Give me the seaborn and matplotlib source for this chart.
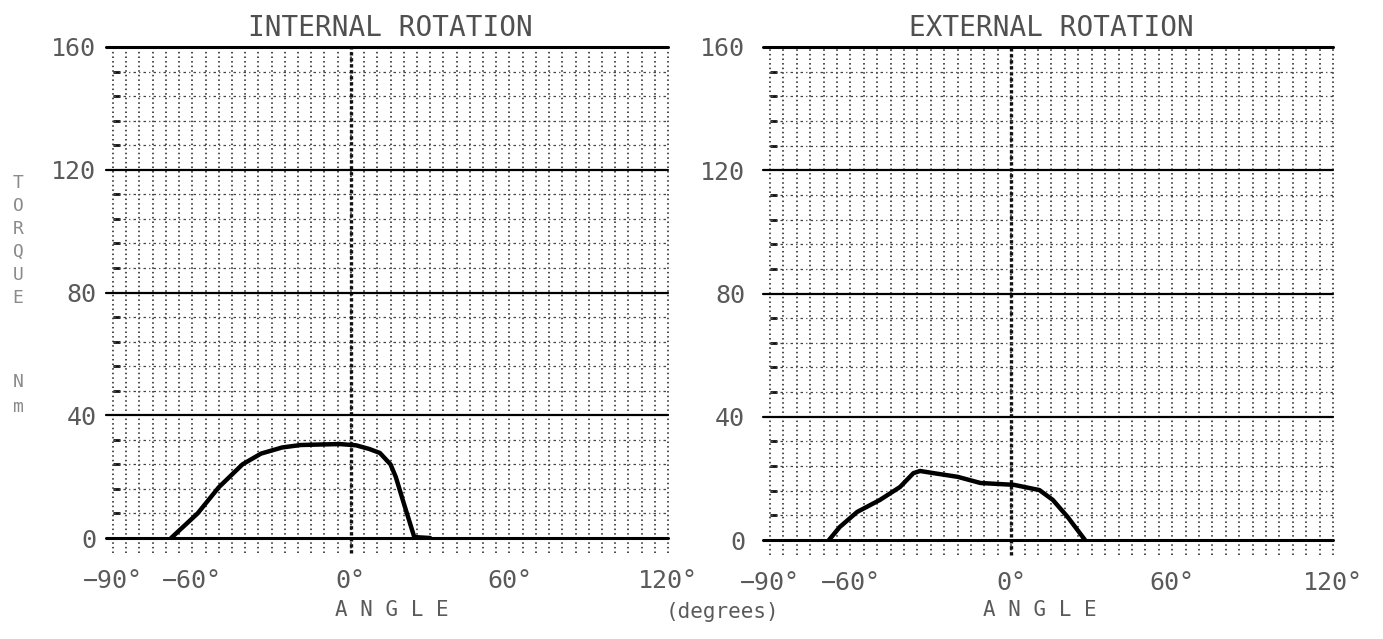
import numpy as np
import matplotlib.pyplot as plt
import seaborn as sns

sns.set_style("white")
plt.rcParams['font.family'] = ['DejaVu Sans Mono', 'DejaVu Sans']

# Torque curves
int_angle = [-68, -58, -50, -41, -34, -26, -19, -10, -4, 2, 7, 11, 15, 17, 20, 24, 30]
int_torque = [0, 8, 16.5, 24, 27.5, 29.5, 30.3, 30.5, 30.6, 30.2, 29, 27.7, 24, 19.9, 11.4, 0.3, 0]

ext_angle = [-68, -64, -57.5, -49, -41.5, -36.5, -34, -29, -20, -11.5, 1, 10.5, 15.5, 21, 27.5]
ext_torque = [0, 4.2, 9.1, 13, 17.2, 21.7, 22.4, 21.7, 20.5, 18.5, 17.9, 16.2, 13, 7.5, 0]

x_ticks = [-90, -60, 0, 60, 120]
x_labels = ['−90°', '−60°', '0°', '60°', '120°']
y_ticks = [0, 40, 80, 120, 160]
y_labels = ['0', '40', '80', '120', '160']
titles = ['INTERNAL ROTATION', 'EXTERNAL ROTATION']

fig = plt.figure(figsize=(13.83, 6.39), dpi=100)
ax1 = fig.add_axes([113 / 1383, 1 - 538 / 639, 555 / 1383, 491 / 639])
ax2 = fig.add_axes([770 / 1383, 1 - 540 / 639, 563 / 1383, 493 / 639])

text_col = '#5a5a5a'


def draw_grid(ax, ylab_pad):
    ax.set_xlim(-90, 120)
    ax.set_ylim(0, 160)
    for s in ax.spines.values():
        s.set_visible(False)
    # minor verticals every 5 degrees, poking below the axis
    for x in np.arange(-90, 121, 5):
        ax.axvline(x, ymin=-0.03, ymax=1, color='#1a1a1a', lw=1.1, ls=(0, (1, 2)),
                   clip_on=False, zorder=1)
    ax.axvline(0, ymin=-0.03, ymax=1, color='#111', lw=2.4, ls=(0, (1, 0.8)),
               clip_on=False, zorder=1)
    # minor horizontals every 8 units
    for y in np.arange(8, 160, 8):
        if y % 40:
            ax.axhline(y, color='#444', lw=0.9, ls=(0, (2, 2.5, 1, 2.5)), zorder=1)
    for y in [40, 80, 120]:
        ax.axhline(y, xmin=-0.012, xmax=1, color='black', lw=1.6, clip_on=False, zorder=2)
    for y in [0, 160]:
        ax.axhline(y, xmin=-0.012, xmax=1, color='black', lw=2.2, clip_on=False, zorder=2)
    ax.set_xticks(x_ticks)
    ax.set_xticklabels(x_labels)
    ax.set_yticks(y_ticks)
    ax.set_yticklabels(y_labels)
    ax.set_yticks(np.arange(8, 160, 8), minor=True)
    ax.tick_params(axis='x', length=0, pad=22, labelsize=18, labelcolor=text_col)
    ax.tick_params(axis='y', which='major', length=0, pad=ylab_pad, labelsize=18,
                   labelcolor=text_col)
    ax.tick_params(axis='y', which='minor', left=True, direction='in', length=5,
                   width=2, color='#111')
    ax.set_xlabel('')
    ax.set_ylabel('')


draw_grid(ax1, 12)
draw_grid(ax2, 18)

sns.lineplot(x=int_angle, y=int_torque, ax=ax1, color='black', lw=3.2, zorder=5,
             sort=False)
sns.lineplot(x=ext_angle, y=ext_torque, ax=ax2, color='black', lw=3.2, zorder=5,
             sort=False)

for ax, t in zip([ax1, ax2], titles):
    ax.set_title(t, fontsize=20, color='#505050', pad=8)

# axis labels
fig.text(392 / 1383, 1 - 610 / 639, 'A N G L E', fontsize=15, color=text_col,
         ha='center', va='center')
fig.text(1040 / 1383, 1 - 610 / 639, 'A N G L E', fontsize=15, color=text_col,
         ha='center', va='center')
fig.text(722 / 1383, 1 - 612 / 639, '(degrees)', fontsize=15, color=text_col,
         ha='center', va='center')

# stacked vertical label on the left
for i, ch in enumerate('TORQUE'):
    fig.text(18 / 1383, 1 - (183 + i * 23) / 639, ch, fontsize=13, color='#8a8a8a',
             ha='center', va='center')
for i, ch in enumerate('Nm'):
    fig.text(18 / 1383, 1 - (382 + i * 25) / 639, ch, fontsize=13, color='#8a8a8a',
             ha='center', va='center')

fig.savefig('out.png', dpi=100, facecolor='white')
